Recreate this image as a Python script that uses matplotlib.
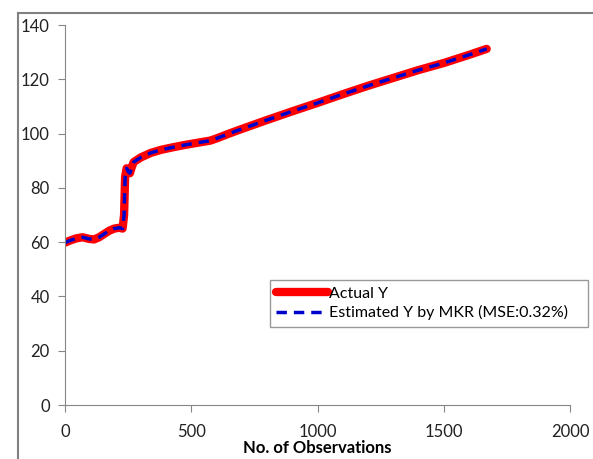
import matplotlib
matplotlib.use("Agg")
import matplotlib.pyplot as plt
from matplotlib.patches import Rectangle

# values
obs = [0, 20, 45, 70, 95, 115, 135, 155, 175, 195, 215, 228, 234, 238, 244, 250, 257, 264, 272,
       300, 340, 380, 430, 480, 530, 575, 600, 650, 700, 800, 900, 1000, 1100, 1200, 1300, 1400,
       1500, 1600, 1670]
actual_y = [59.8, 60.6, 61.4, 61.8, 61.2, 61.0, 61.8, 63.0, 64.2, 65.0, 65.3, 65.0, 70, 84, 87.2,
            86.0, 85.4, 87.5, 89.5, 91.2, 92.9, 94.0, 95.0, 95.9, 96.7, 97.4, 98.2, 100.0, 101.7,
            105.0, 108.2, 111.3, 114.5, 117.6, 120.5, 123.4, 126.0, 129.0, 131.2]
est_y = actual_y

plt.rcParams['font.family'] = ['Lato', 'DejaVu Sans']
fig = plt.figure(figsize=(5.93, 4.59), dpi=100)
W, H = 593, 459
ax = fig.add_axes([65 / W, 1 - 405 / H, (570 - 65) / W, (405 - 25) / H])

# outer chart frame (cropped at right/bottom)
fig.patches.append(Rectangle((18 / W, -0.1), 1.2, 1 - 13 / H + 0.1, transform=fig.transFigure,
                             fill=False, edgecolor='#808080', linewidth=1.5))

ax.plot(obs, actual_y, color='#ff0000', linewidth=6, solid_capstyle='round', label='Actual Y')
ax.plot(obs, est_y, color='#0000cc', linewidth=2.5, linestyle=(0, (3, 2)),
        label='Estimated Y by MKR (MSE:0.32%)')

ax.set_xlim(0, 2000)
ax.set_ylim(0, 140)
ax.set_xticks([0, 500, 1000, 1500, 2000])
ax.set_yticks(range(0, 141, 20))
for s in ['top', 'right']:
    ax.spines[s].set_visible(False)
for s in ['left', 'bottom']:
    ax.spines[s].set_color('#868686')
ax.tick_params(colors='#868686', labelcolor='#222222', labelsize=12, length=5)
ax.tick_params(axis='x', pad=9)
ax.tick_params(axis='y', pad=6)
ax.set_xlabel('No. of Observations', fontsize=12, fontweight='bold', labelpad=0)

leg = ax.legend(loc='upper left',
                bbox_to_anchor=(270 / W, 1 - 329 / H, (588 - 270) / W, 49 / H),
                bbox_transform=fig.transFigure, mode='expand',
                fancybox=False, edgecolor='#808080', fontsize=11.5, handlelength=3.2,
                handletextpad=0.1, borderpad=0.4, labelspacing=0.3, borderaxespad=0)
leg.get_frame().set_linewidth(1)

fig.savefig('out.png', dpi=100)
